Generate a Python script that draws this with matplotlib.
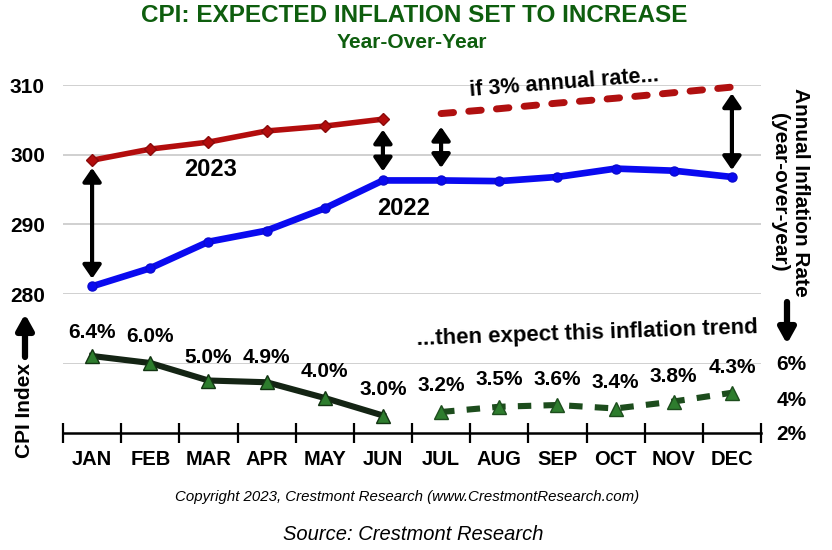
import matplotlib
matplotlib.use("Agg")
import matplotlib.pyplot as plt
from matplotlib.patches import FancyArrowPatch
import numpy as np

plt.rcParams['font.family'] = ['Liberation Sans', 'DejaVu Sans']

months = ["JAN", "FEB", "MAR", "APR", "MAY", "JUN", "JUL", "AUG", "SEP", "OCT", "NOV", "DEC"]
cpi_2022 = [281.1, 283.7, 287.5, 289.1, 292.3, 296.3, 296.3, 296.2, 296.8, 298.0, 297.7, 296.8]
cpi_2023 = [299.2, 300.8, 301.8, 303.4, 304.1, 305.1]
cpi_2023_proj = [305.9, 306.6, 307.4, 308.1, 308.9, 309.7]
infl_actual = [6.4, 6.0, 5.0, 4.9, 4.0, 3.0]
infl_proj = [3.2, 3.5, 3.6, 3.4, 3.8, 4.3]
infl_labels = ["6.4%", "6.0%", "5.0%", "4.9%", "4.0%", "3.0%",
               "3.2%", "3.5%", "3.6%", "3.4%", "3.8%", "4.3%"]
cpi_ticks = [280, 290, 300, 310]
infl_ticks = [2, 4, 6]

W, H = 832, 550
fig = plt.figure(figsize=(W / 100, H / 100), dpi=100)

def frac(x0, y0, x1, y1):
    return [x0 / W, 1 - y1 / H, (x1 - x0) / W, (y1 - y0) / H]

x = np.arange(12)
xa = x[:6]
xp = x[6:]

# ---- top panel ----
ax = fig.add_axes(frac(63, 85, 761, 294))
ax.set_xlim(-0.5, 11.5)
ax.set_ylim(280, 310)
for s in ax.spines.values():
    s.set_visible(False)
ax.set_xticks([])
ax.set_yticks(cpi_ticks)
ax.set_yticklabels([str(t) for t in cpi_ticks], fontsize=15, fontweight='bold')
ax.tick_params(axis='y', length=0, pad=13)
for t in cpi_ticks:
    ax.axhline(t, color='#c8c8c8', lw=1.2, zorder=0)

ax.plot(x, cpi_2022, color='#0a0af0', lw=4.8, marker='o', ms=6.5,
        markeredgecolor='#0a0ad0', clip_on=False, zorder=3)
ax.plot(xa, cpi_2023, color='#b30d0d', lw=4.0, marker='D', ms=6.5,
        markeredgecolor='#8a0a0a', clip_on=False, zorder=3)
ax.plot(xp, cpi_2023_proj, color='#b01010', lw=5.0, ls=(0, (1.8, 2.2)),
        dash_capstyle='round', clip_on=False, zorder=3)

def darrow(xx, y0, y1):
    ax.annotate('', xy=(xx, y1), xytext=(xx, y0),
                arrowprops=dict(arrowstyle='<|-|>,head_length=0.8,head_width=0.55',
                                color='black', lw=3.0, shrinkA=0, shrinkB=0),
                annotation_clip=False, zorder=4)

darrow(0, 298.1, 282.2)
darrow(5, 303.6, 297.6)
darrow(6, 304.0, 298.1)
darrow(11, 308.8, 297.8)

ax.text(2.03, 297.9, "2023", fontsize=17, fontweight='bold', ha='center', va='center')
ax.text(5.35, 292.3, "2022", fontsize=17, fontweight='bold', ha='center', va='center')
ax.text(8.12, 310.3, "if 3% annual rate...", fontsize=15.5, fontweight='bold',
        ha='center', va='center', rotation=4.5)

# ---- bottom panel ----
bx = fig.add_axes(frac(63, 363, 761, 433))
bx.set_xlim(-0.5, 11.5)
bx.set_ylim(2, 6)
for k in ['top', 'left', 'right']:
    bx.spines[k].set_visible(False)
bx.spines['bottom'].set_linewidth(1.8)
bx.axhline(6, color='#c8c8c8', lw=1.2, zorder=0)
bx.set_xticks(np.arange(-0.5, 12.0, 1.0))
bx.set_xticklabels([])
bx.set_xticks(x, minor=True)
bx.set_xticklabels(months, minor=True, fontsize=14.5, fontweight='bold')
bx.tick_params(axis='x', which='major', direction='inout', length=14, width=1.6)
bx.tick_params(axis='x', which='minor', length=0, pad=12)
bx.yaxis.tick_right()
bx.set_yticks(infl_ticks)
bx.set_yticklabels([f"{t}%" for t in infl_ticks], fontsize=15, fontweight='bold')
bx.tick_params(axis='y', length=0, pad=11)

bx.plot(xa, infl_actual, color='#142414', lw=4.4, marker='^', ms=10.5,
        markerfacecolor='#2e7d2e', markeredgecolor='#123412', clip_on=False, zorder=3)
bx.plot(xp, infl_proj, color='#1d4d1d', lw=4.4, ls=(0, (2.2, 2.0)),
        marker='^', ms=10.5, markerfacecolor='#2e7d2e', markeredgecolor='#1d4d1d',
        clip_on=False, zorder=3)

label_offsets = [1.37, 1.49, 1.34, 1.44, 1.49, 1.46, 1.54, 1.53, 1.43, 1.51, 1.40, 1.47]
vals = infl_actual + infl_proj
for i in range(12):
    bx.text(i, vals[i] + label_offsets[i], infl_labels[i], fontsize=15,
            fontweight='bold', ha='center', va='center')

bx.text(8.51, 7.71, "...then expect this inflation trend", fontsize=16,
        fontweight='bold', ha='center', va='center', rotation=2)

# ---- side labels and arrows ----
fig.text(25 / W, 1 - 411 / H, "CPI Index", rotation=90, fontsize=15,
         fontweight='bold', ha='center', va='center')
fig.add_artist(FancyArrowPatch(
    (25 / W, 1 - 357 / H), (25 / W, 1 - 314 / H), transform=fig.transFigure,
    arrowstyle='-|>,head_length=9,head_width=5', color='black', lw=4.5,
    shrinkA=0, shrinkB=0))
fig.text(790 / W, 1 - 192 / H, "Annual Inflation Rate\n(year-over-year)",
         rotation=-90, fontsize=15, fontweight='bold', ha='center', va='center',
         linespacing=1.1)
fig.add_artist(FancyArrowPatch(
    (787 / W, 1 - 302 / H), (787 / W, 1 - 344 / H), transform=fig.transFigure,
    arrowstyle='-|>,head_length=9,head_width=5', color='black', lw=4.5,
    shrinkA=0, shrinkB=0))

# ---- titles ----
fig.text(414 / W, 1 - 16 / H, "CPI: EXPECTED INFLATION SET TO INCREASE",
         fontsize=17.5, fontweight='bold', color='#0e5e0e', ha='center', va='center')
fig.text(412 / W, 1 - 42 / H, "Year-Over-Year", fontsize=15, fontweight='bold',
         color='#0e5e0e', ha='center', va='center')
fig.text(407 / W, 1 - 497 / H,
         "Copyright 2023, Crestmont Research (www.CrestmontResearch.com)",
         fontsize=10.8, style='italic', ha='center', va='center')
fig.text(413 / W, 1 - 535 / H, "Source: Crestmont Research", fontsize=14.5,
         style='italic', ha='center', va='center')

fig.savefig("out.png", dpi=100)
